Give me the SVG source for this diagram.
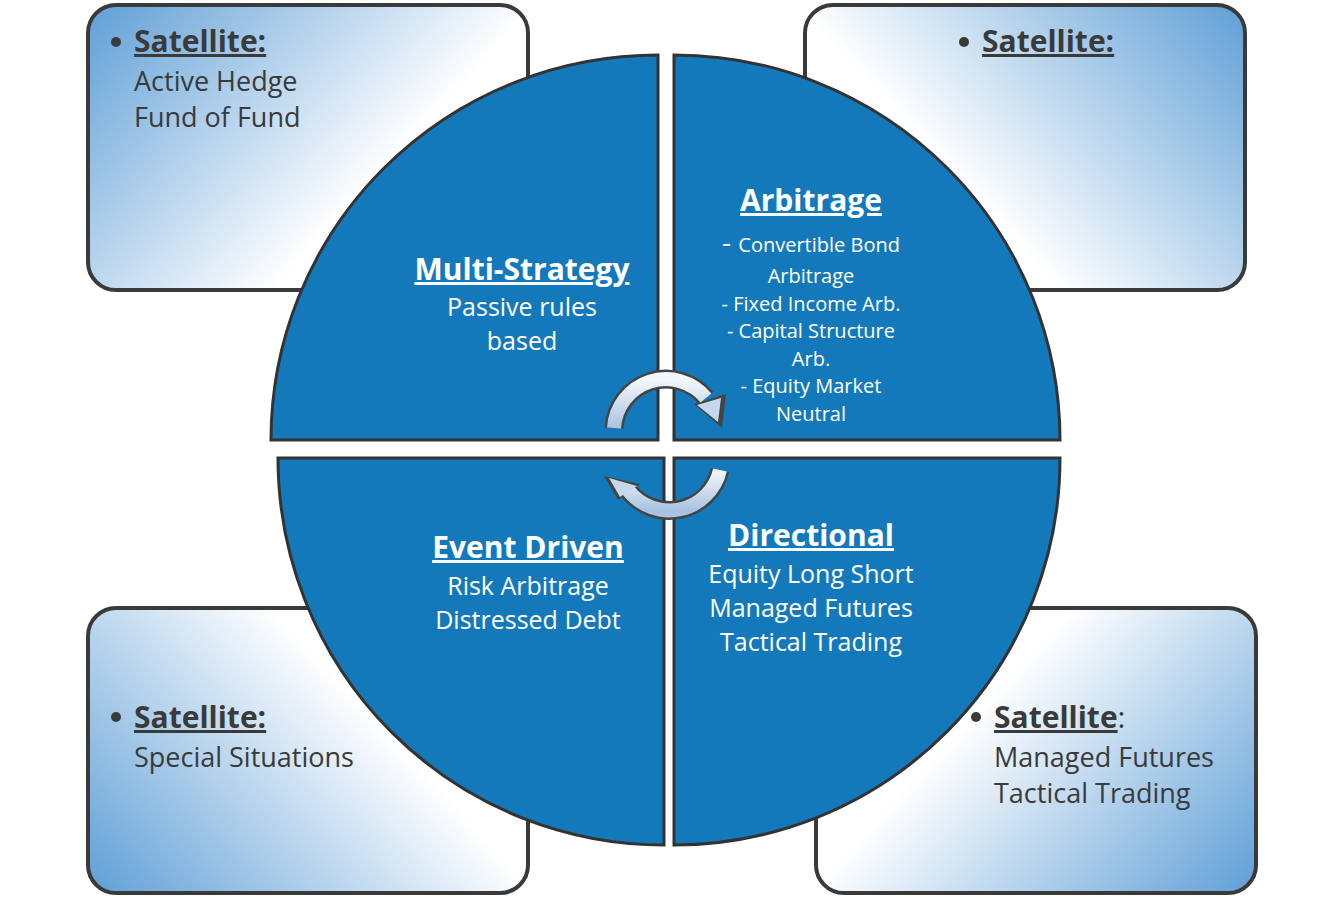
<svg xmlns="http://www.w3.org/2000/svg" width="1333" height="898" viewBox="0 0 1333 898">
<defs>
<linearGradient id="gTL" x1="0" y1="0" x2="1" y2="0.6"><stop offset="0" stop-color="#5f9fd6"/><stop offset="0.75" stop-color="#ffffff"/></linearGradient>
<linearGradient id="gTR" x1="1" y1="0" x2="0" y2="0.6"><stop offset="0" stop-color="#5f9fd6"/><stop offset="0.75" stop-color="#ffffff"/></linearGradient>
<linearGradient id="gBL" x1="0" y1="1" x2="1" y2="0.4"><stop offset="0" stop-color="#5f9fd6"/><stop offset="0.75" stop-color="#ffffff"/></linearGradient>
<linearGradient id="gBR" x1="1" y1="1" x2="0" y2="0.4"><stop offset="0" stop-color="#5f9fd6"/><stop offset="0.75" stop-color="#ffffff"/></linearGradient>
<linearGradient id="gArr" x1="0" y1="0" x2="0" y2="1"><stop offset="0" stop-color="#f4f8fc"/><stop offset="1" stop-color="#a9c3e2"/></linearGradient>
<style>
.box{stroke:#3a3a3a;stroke-width:4}
.q{fill:#1479bb;stroke:#333;stroke-width:3}
.t{font-family:"Open Sans","Noto Sans",sans-serif;fill:#3a3a3a}
.h{font-weight:bold;text-decoration:underline;font-size:30px}
.b{font-size:27px}
.w{font-family:"Open Sans","Noto Sans",sans-serif;fill:#fff;text-anchor:middle}
.wh{font-weight:bold;text-decoration:underline;font-size:30px}
.ws{font-size:20px}
.wm{font-size:25px}
.arrOut{fill:none;stroke:#444;stroke-width:19}
.arrIn{fill:none;stroke:url(#gArr);stroke-width:14}
</style>
</defs>
<g id="box-tl"><rect class="box" x="88" y="5" width="440" height="285" rx="28" fill="url(#gTL)"/>
<circle cx="116" cy="42" r="5" fill="#3a3a3a"/><text class="t h" x="134" y="52">Satellite:</text>
<text class="t b" x="134" y="91">Active Hedge</text><text class="t b" x="134" y="127">Fund of Fund</text></g>
<g id="box-tr"><rect class="box" x="805" y="5" width="440" height="285" rx="28" fill="url(#gTR)"/>
<circle cx="964" cy="42" r="5" fill="#3a3a3a"/><text class="t h" x="982" y="52">Satellite:</text></g>
<g id="box-bl"><rect class="box" x="88" y="608" width="440" height="285" rx="28" fill="url(#gBL)"/>
<circle cx="116" cy="717" r="5" fill="#3a3a3a"/><text class="t h" x="134" y="728">Satellite:</text>
<text class="t b" x="134" y="767">Special Situations</text></g>
<g id="box-br"><rect class="box" x="816" y="608" width="440" height="285" rx="28" fill="url(#gBR)"/>
<circle cx="976" cy="717" r="5" fill="#3a3a3a"/><text class="t" x="994" y="728"><tspan class="h">Satellite</tspan><tspan font-size="30px">:</tspan></text>
<text class="t b" x="994" y="767">Managed Futures</text><text class="t b" x="994" y="803">Tactical Trading</text></g>
<g id="q-multi"><path class="q" d="M658,440 L271,440 A387,385 0 0 1 658,55 Z"/>
<text class="w wh" x="522" y="280">Multi-Strategy</text><text class="w wm" x="522" y="316">Passive rules</text><text class="w wm" x="522" y="350">based</text></g>
<g id="q-arb"><path class="q" d="M674,440 L674,55 A386,385 0 0 1 1060,440 Z"/>
<text class="w wh" x="811" y="211">Arbitrage</text>
<text class="w ws" x="811" y="252"><tspan font-size="28px">- </tspan>Convertible Bond</text>
<text class="w ws" x="811" y="283">Arbitrage</text>
<text class="w ws" x="811" y="311">- Fixed Income Arb.</text>
<text class="w ws" x="811" y="338">- Capital Structure</text>
<text class="w ws" x="811" y="366">Arb.</text>
<text class="w ws" x="811" y="393">- Equity Market</text>
<text class="w ws" x="811" y="421">Neutral</text></g>
<g id="q-event"><path class="q" d="M664,458 L664,845 A386,387 0 0 1 278,458 Z"/>
<text class="w wh" x="528" y="558">Event Driven</text><text class="w wm" x="528" y="595">Risk Arbitrage</text><text class="w wm" x="528" y="629">Distressed Debt</text></g>
<g id="q-dir"><path class="q" d="M674,458 L1060,458 A386,387 0 0 1 674,845 Z"/>
<text class="w wh" x="811" y="546">Directional</text><text class="w wm" x="811" y="583">Equity Long Short</text><text class="w wm" x="811" y="617">Managed Futures</text><text class="w wm" x="811" y="651">Tactical Trading</text></g>
<g id="connectors">
<path class="arrOut" d="M614,428 A52,52 0 0 1 706,398"/>
<polygon points="694,404 726,394 722,428" fill="#444"/>
<path class="arrIn" d="M614,428 A52,52 0 0 1 706,398"/>
<polygon points="697,405 721,398 718,422" fill="#c7d8ec"/>
<path class="arrOut" d="M720,470 A52,52 0 0 1 628,490"/>
<polygon points="640,484 604,476 618,500" fill="#444"/>
<path class="arrIn" d="M720,470 A52,52 0 0 1 628,490"/>
<polygon points="637,486 609,478 620,497" fill="#c7d8ec"/>
</g>
</svg>
